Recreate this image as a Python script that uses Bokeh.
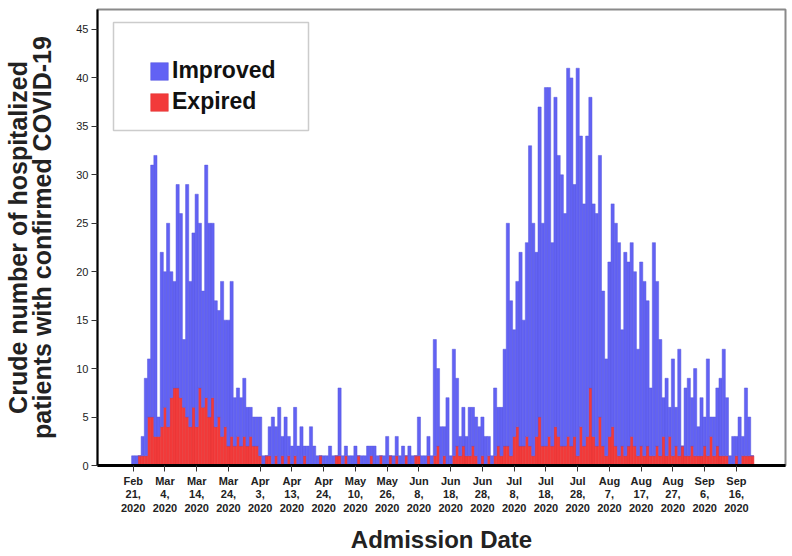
from bokeh.plotting import figure
from bokeh.models import (Range1d, FixedTicker, Legend, LegendItem, ColumnDataSource,
                          BoxAnnotation)
from bokeh.embed import file_html
from bokeh.resources import INLINE

# Daily admissions (one category per admission day, Feb 21 2020 onward)
improved = [
    1, 1, 0, 2, 8, 6, 26, 29, 2, 18,
    14, 21, 13, 11, 21, 19, 7, 24, 15, 18,
    24, 17, 12, 24, 20, 18, 13, 11, 16, 11,
    13, 16, 5, 5, 5, 6, 4, 3, 3, 3,
    4, 1, 0, 3, 5, 3, 6, 2, 5, 2,
    2, 5, 2, 4, 1, 2, 4, 2, 1, 0,
    1, 1, 2, 1, 0, 7, 1, 1, 1, 1,
    2, 0, 1, 1, 2, 1, 2, 1, 0, 1,
    3, 0, 1, 2, 1, 2, 0, 2, 1, 0,
    4, 1, 1, 2, 1, 12, 8, 4, 3, 7,
    1, 11, 7, 2, 4, 2, 5, 4, 4, 4,
    4, 3, 2, 1, 7, 4, 5, 10, 23, 16,
    11, 15, 20, 13, 20, 31, 24, 19, 32, 23,
    37, 36, 21, 34, 29, 28, 24, 38, 38, 26,
    40, 30, 25, 31, 30, 24, 24, 27, 16, 10,
    18, 23, 23, 22, 12, 21, 19, 20, 18, 11,
    19, 18, 15, 7, 22, 17, 12, 4, 8, 3,
    10, 4, 11, 0, 7, 8, 5, 9, 3, 6,
    3, 10, 2, 4, 6, 8, 11, 6, 1, 3,
    2, 5, 2, 7, 4, 0,
]
expired = [
    0, 0, 1, 1, 1, 5, 5, 3, 3, 4,
    6, 4, 7, 8, 8, 7, 6, 5, 4, 6,
    4, 8, 6, 7, 5, 7, 4, 5, 3, 4,
    2, 3, 2, 3, 2, 3, 2, 3, 2, 2,
    1, 0, 1, 1, 0, 1, 0, 1, 0, 1,
    0, 1, 0, 0, 1, 0, 0, 0, 0, 1,
    0, 0, 0, 0, 1, 1, 0, 1, 0, 0,
    0, 1, 0, 0, 0, 1, 0, 0, 1, 0,
    0, 1, 0, 1, 0, 0, 1, 0, 0, 1,
    1, 0, 0, 1, 0, 1, 2, 0, 1, 0,
    0, 1, 2, 1, 2, 1, 1, 2, 1, 0,
    1, 0, 1, 0, 1, 2, 1, 2, 2, 1,
    3, 4, 2, 2, 3, 2, 1, 3, 5, 2,
    2, 3, 2, 4, 3, 2, 2, 3, 2, 3,
    1, 4, 2, 3, 8, 3, 2, 5, 2, 1,
    3, 4, 2, 1, 2, 1, 2, 3, 2, 1,
    2, 1, 2, 1, 1, 2, 1, 3, 1, 3,
    1, 2, 1, 2, 1, 1, 2, 1, 1, 1,
    2, 1, 3, 1, 2, 1, 1, 1, 0, 0,
    1, 0, 1, 1, 1, 1,
]
tick_labels = [
    "Feb\n21,\n2020", "Mar\n4,\n2020", "Mar\n14,\n2020", "Mar\n24,\n2020",
    "Apr\n3,\n2020", "Apr\n13,\n2020", "Apr\n24,\n2020", "May\n10,\n2020",
    "May\n26,\n2020", "Jun\n8,\n2020", "Jun\n18,\n2020", "Jun\n28,\n2020",
    "Jul\n8,\n2020", "Jul\n18,\n2020", "Jul\n28,\n2020", "Aug\n7,\n2020",
    "Aug\n17,\n2020", "Aug\n27,\n2020", "Sep\n6,\n2020", "Sep\n16,\n2020",
]
tick_every = 10
y_ticks = [0, 5, 10, 15, 20, 25, 30, 35, 40, 45]
x_title = "Admission Date"
y_title = "Crude number of hospitalized\npatients with confirmed COVID-19"

BLUE = "#6262f4"
RED = "#f23a3a"
FONT = "Liberation Sans"

day_index = list(range(len(improved)))
source = ColumnDataSource(dict(x=day_index, improved=improved, expired=expired))

p = figure(width=792, height=556, output_backend="svg", toolbar_location=None,
           x_range=Range1d(-11.24, 205.45), y_range=Range1d(0, 47.06),
           min_border_left=97, min_border_right=7, min_border_top=9,
           min_border_bottom=91)

rs = p.vbar_stack(["expired", "improved"], x="x", width=1.0, source=source,
                  fill_color=[RED, BLUE], line_color=["#e03434", "#5858dc"],
                  line_width=0.5)

# legend frame
box = BoxAnnotation(left=16, right=211, bottom=335, top=443,
                    left_units="screen", right_units="screen",
                    bottom_units="screen", top_units="screen",
                    fill_color="white", fill_alpha=1.0,
                    line_color="#555555", line_width=1.5)
p.add_layout(box)

legend = Legend(items=[LegendItem(label="Improved", renderers=[rs[1]]),
                       LegendItem(label="Expired", renderers=[rs[0]])],
                location=(51, 350))
legend.border_line_alpha = 0
legend.background_fill_alpha = 0
legend.label_text_font = FONT
legend.label_text_font_size = "23px"
legend.label_text_font_style = "bold"
legend.label_text_color = "#111111"
legend.glyph_width = 22
legend.glyph_height = 22
legend.padding = 0
legend.spacing = 4
legend.label_standoff = 2
p.add_layout(legend)

tick_positions = [i * tick_every for i in range(len(tick_labels))]
p.xaxis.ticker = FixedTicker(ticks=tick_positions)
p.xaxis.major_label_overrides = {t: lab for t, lab in zip(tick_positions, tick_labels)}
p.yaxis.ticker = FixedTicker(ticks=y_ticks)

p.xgrid.visible = False
p.ygrid.visible = False
p.outline_line_color = "#8a8a8a"
p.outline_line_width = 2

for ax in (p.xaxis, p.yaxis):
    ax.axis_line_color = "#000000"
    ax.major_tick_line_color = "#333333"
    ax.major_tick_in = 0
    ax.major_tick_out = 6
    ax.minor_tick_line_color = None
    ax.major_label_text_font = FONT
    ax.major_label_text_color = "#222222"
    ax.axis_label_text_font = FONT
    ax.axis_label_text_font_style = "bold"
    ax.axis_label_text_color = "#222222"

p.xaxis.axis_line_width = 3
p.yaxis.axis_line_width = 2
p.xaxis.major_label_text_font_size = "11px"
p.xaxis.major_label_text_font_style = "bold"
p.xaxis.major_label_text_line_height = 1.15
p.xaxis.major_label_standoff = 3
p.yaxis.major_label_text_font_size = "11px"
p.yaxis.major_label_standoff = 3

p.xaxis.axis_label = x_title
p.xaxis.axis_label_text_font_size = "24px"
p.xaxis.axis_label_standoff = 9
p.yaxis.axis_label = y_title
p.yaxis.axis_label_text_font_size = "25px"
p.yaxis.axis_label_text_line_height = 0.86
p.yaxis.axis_label_standoff = 17

open("out.html", "w").write(file_html(p, INLINE))
